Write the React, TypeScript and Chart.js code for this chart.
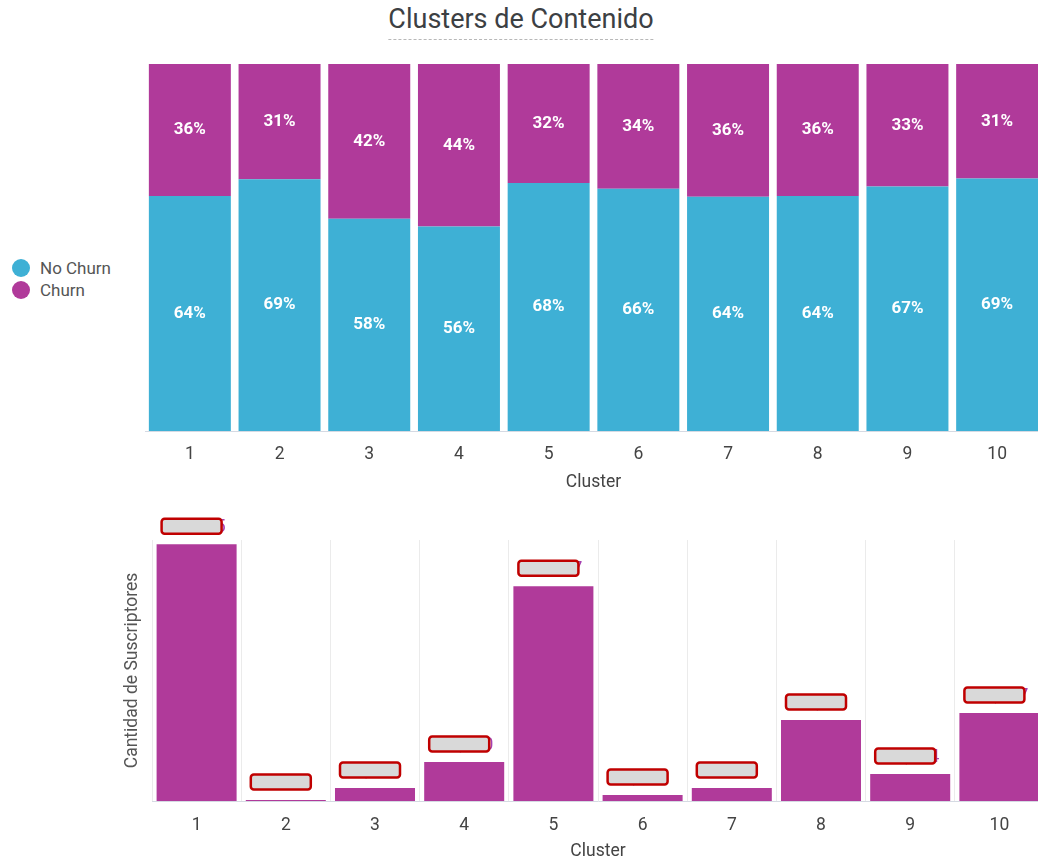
import React, { useEffect, useRef } from "react";
import { Chart, registerables } from "chart.js";

Chart.register(...registerables);

const clusters = ["1", "2", "3", "4", "5", "6", "7", "8", "9", "10"];
const noChurnPct = [64.0, 68.6, 57.8, 55.7, 67.6, 66.0, 63.8, 64.0, 66.6, 68.8];
const churnPct = [36.0, 31.4, 42.2, 44.3, 32.4, 34.0, 36.2, 36.0, 33.4, 31.2];
const subscribers = [96385, 382, 4866, 14630, 80627, 2241, 4902, 30381, 10124, 33007];
const seriesNames = ["No Churn", "Churn"];

const BLUE = "#3eb0d5";
const MAGENTA = "#b03a9a";
const FONT = "Roboto";

const pctLabels = {
  id: "pctLabels",
  afterDatasetsDraw(chart: any) {
    const ctx = chart.ctx;
    ctx.save();
    ctx.fillStyle = "#ffffff";
    ctx.font = `bold 17px ${FONT}`;
    ctx.textAlign = "center";
    ctx.textBaseline = "middle";
    chart.data.datasets.forEach((ds: any, di: number) => {
      const meta = chart.getDatasetMeta(di);
      meta.data.forEach((bar: any, i: number) => {
        const v = ds.data[i];
        ctx.fillText(`${Math.round(v)}%`, bar.x, (bar.y + bar.base) / 2);
      });
    });
    ctx.restore();
  },
};

const countLabels = {
  id: "countLabels",
  afterDatasetsDraw(chart: any) {
    const ctx = chart.ctx;
    const meta = chart.getDatasetMeta(0);
    const data = chart.data.datasets[0].data;
    ctx.save();
    meta.data.forEach((bar: any, i: number) => {
      ctx.fillStyle = "#a540b0";
      ctx.font = `18px ${FONT}`;
      ctx.textAlign = "center";
      ctx.textBaseline = "middle";
      ctx.fillText(Number(data[i]).toLocaleString("en-US"), bar.x + 2, bar.y - 17);
      // redaction box over the value label
      const w = 60;
      const h = 15;
      const cx = bar.x - 5;
      const cy = bar.y - 18;
      ctx.beginPath();
      ctx.roundRect(cx - w / 2, cy - h / 2, w, h, 3);
      ctx.fillStyle = "#d9d9d9";
      ctx.fill();
      ctx.lineWidth = 2.5;
      ctx.strokeStyle = "#c00000";
      ctx.stroke();
    });
    ctx.restore();
  },
};

export default function App() {
  const topRef = useRef<HTMLCanvasElement>(null);
  const botRef = useRef<HTMLCanvasElement>(null);

  useEffect(() => {
    const top = new Chart(topRef.current!, {
      type: "bar",
      data: {
        labels: clusters,
        datasets: [
          { label: seriesNames[0], data: noChurnPct, backgroundColor: BLUE, borderWidth: 0 },
          { label: seriesNames[1], data: churnPct, backgroundColor: MAGENTA, borderWidth: 0 },
        ],
      },
      options: {
        responsive: false,
        animation: false,
        devicePixelRatio: 1,
        layout: { padding: { left: 145, right: 12, top: 8, bottom: 0 } },
        datasets: { bar: { barPercentage: 0.914, categoryPercentage: 1 } },
        plugins: { legend: { display: false }, tooltip: { enabled: false }, title: { display: false } },
        scales: {
          x: {
            stacked: true,
            grid: { display: false, drawTicks: false },
            border: { display: true, color: "#d5dae3", width: 1 },
            ticks: { color: "#444", font: { family: FONT, size: 17.5 }, padding: 13.5 },
            title: {
              display: true,
              text: "Cluster",
              color: "#444",
              font: { family: FONT, size: 17.5 },
              padding: { top: -6.5, bottom: 2.5 },
            },
          },
          y: { stacked: true, display: false, min: 0, max: 100 },
        },
      },
      plugins: [pctLabels],
    } as any);

    const bot = new Chart(botRef.current!, {
      type: "bar",
      data: {
        labels: clusters,
        datasets: [
          { label: "Cantidad de Suscriptores", data: subscribers, backgroundColor: MAGENTA, borderWidth: 0 },
        ],
      },
      options: {
        responsive: false,
        animation: false,
        devicePixelRatio: 1,
        layout: { padding: { left: 118.5, right: 16, top: 35, bottom: 0 } },
        datasets: { bar: { barPercentage: 0.897, categoryPercentage: 1 } },
        plugins: { legend: { display: false }, tooltip: { enabled: false } },
        scales: {
          x: {
            grid: { display: true, color: "#ebebeb", lineWidth: 1, drawTicks: false, offset: true },
            border: { display: true, color: "#d5dae3", width: 1 },
            ticks: { color: "#444", font: { family: FONT, size: 17.5 }, padding: 14.5 },
            title: {
              display: true,
              text: "Cluster",
              color: "#444",
              font: { family: FONT, size: 17.5 },
              padding: { top: -9.5, bottom: 0.5 },
            },
          },
          y: {
            min: 0,
            max: 98000,
            grid: { display: false, drawTicks: false },
            border: { display: false },
            ticks: { display: false },
            title: {
              display: true,
              text: "Cantidad de Suscriptores",
              color: "#555",
              font: { family: FONT, size: 17.5 },
              padding: { top: 4, bottom: 8.5 },
            },
          },
        },
      },
      plugins: [countLabels],
    } as any);

    return () => {
      top.destroy();
      bot.destroy();
    };
  }, []);

  return (
    <div
      style={{
        position: "fixed",
        left: 0,
        top: 0,
        width: 1038,
        height: 863,
        overflow: "hidden",
        background: "#fff",
        fontFamily: FONT,
      }}
    >
      <div
        style={{
          position: "absolute",
          left: 521,
          top: 3,
          transform: "translateX(-50%)",
          fontSize: 27,
          lineHeight: "32px",
          color: "#3c4043",
          whiteSpace: "nowrap",
          paddingBottom: 4,
          borderBottom: "1px dashed #b8b8b8",
        }}
      >
        Clusters de Contenido
      </div>
      {seriesNames.map((name, i) => (
        <div
          key={name}
          style={{
            position: "absolute",
            left: 12,
            top: 257 + i * 22,
            height: 22,
            display: "flex",
            alignItems: "center",
            fontSize: 17,
            color: "#555",
            whiteSpace: "nowrap",
          }}
        >
          <span
            style={{
              display: "inline-block",
              width: 18,
              height: 18,
              borderRadius: 9,
              background: i === 0 ? BLUE : MAGENTA,
              marginRight: 10,
            }}
          />
          {name}
        </div>
      ))}
      <canvas
        ref={topRef}
        width={1054}
        height={440}
        style={{ position: "absolute", left: 0, top: 56, width: 1054, height: 440 }}
      />
      <canvas
        ref={botRef}
        width={1060}
        height={358}
        style={{ position: "absolute", left: 0, top: 505, width: 1060, height: 358 }}
      />
    </div>
  );
}
